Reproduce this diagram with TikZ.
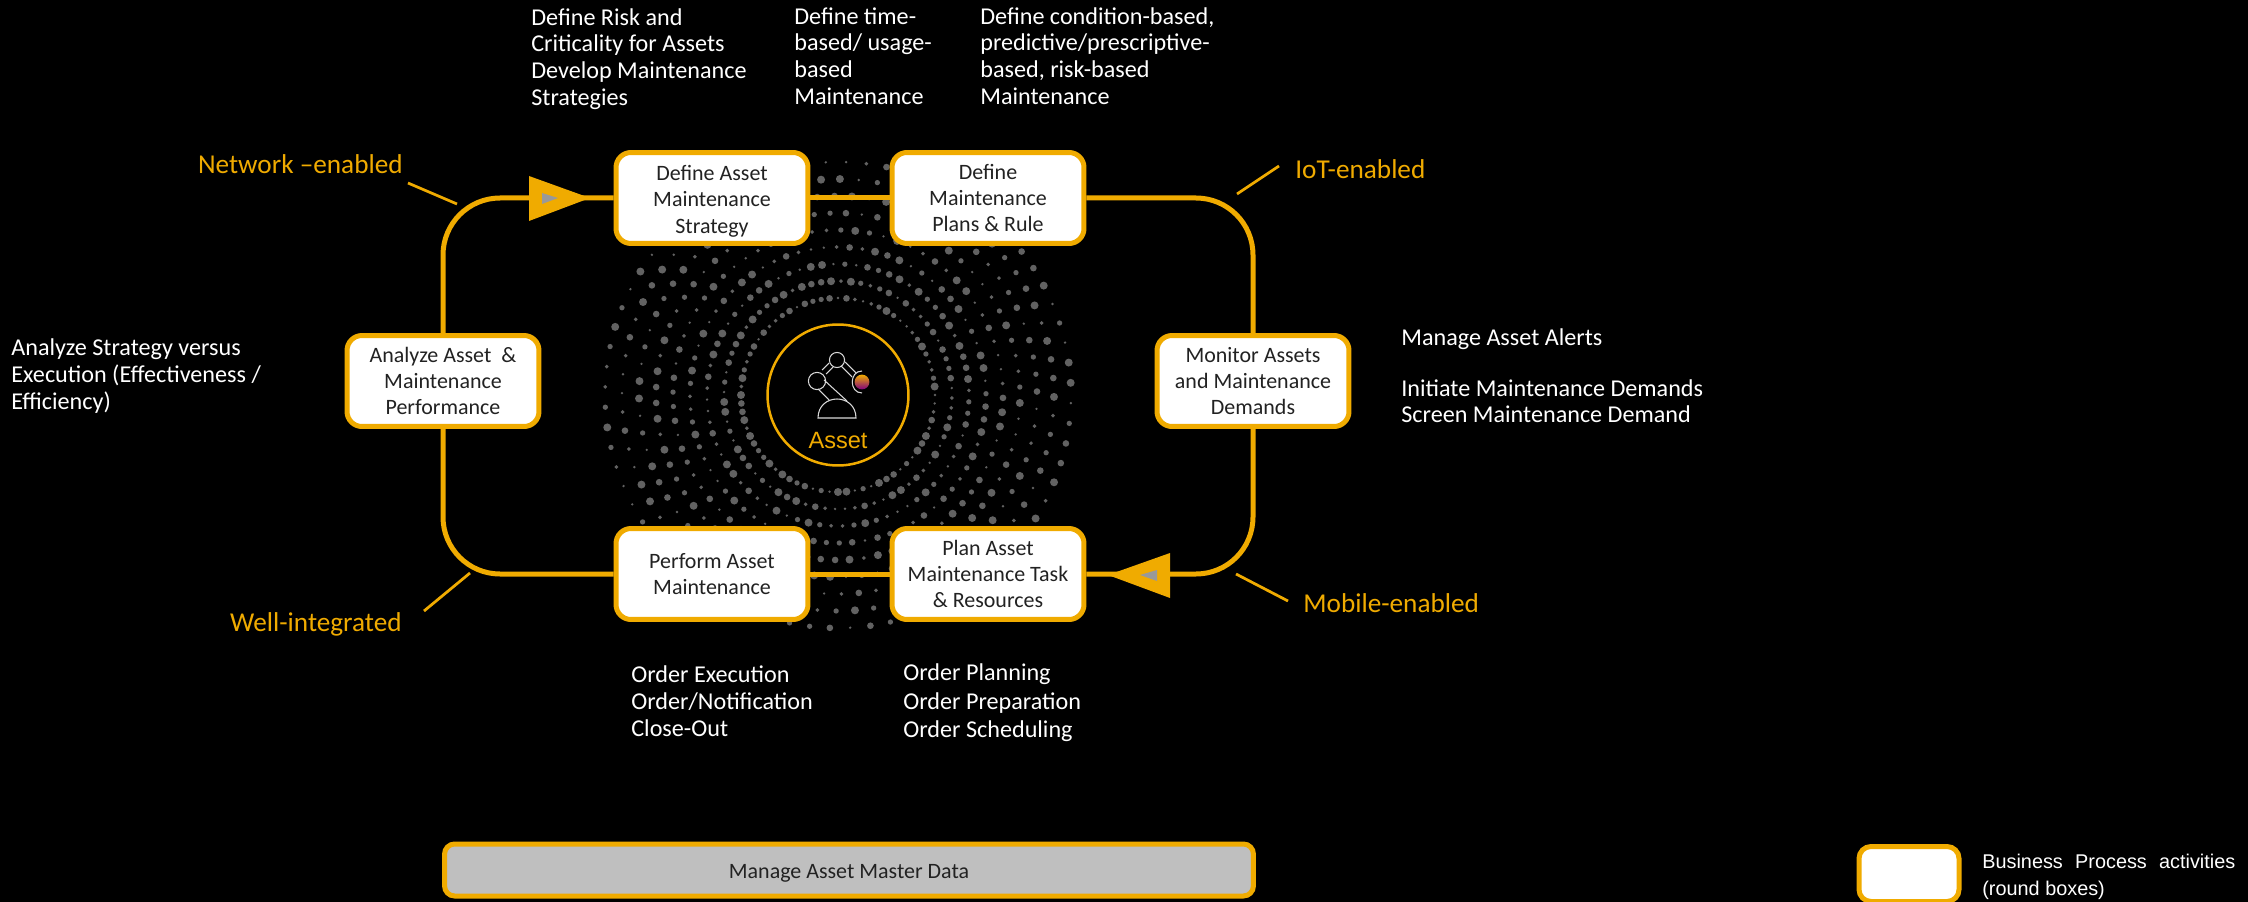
\documentclass[tikz,border=0pt]{standalone}
\usepackage{fontspec}
\setmainfont{Carlito}
\newfontfamily\arialfont{Liberation Sans}
\definecolor{sapgold}{HTML}{F0AB00}
\definecolor{dotgray}{HTML}{626262}
\definecolor{bargray}{HTML}{BFBFBF}
\definecolor{boxtext}{HTML}{222222}
\tikzset{
  activity/.style={draw=sapgold, fill=white, line width=0.1cm, rounded corners=0.3cm,
    minimum width=3.84cm, minimum height=1.82cm, inner sep=0pt, align=center, text=boxtext,
    font=\fontsize{12.5}{15}\selectfont},
  note/.style={text=white, align=left, inner sep=0pt, font=\fontsize{13.75}{15.2}\selectfont},
  tag/.style={text=sapgold, inner sep=0pt, font=\fontsize{15.5}{18}\selectfont},
  flow/.style={draw=sapgold, line width=0.1cm},
  tick/.style={draw=sapgold, line width=0.055cm},
  robot/.style={draw=white!85!black, line width=0.6pt},
}
\begin{document}
\begin{tikzpicture}[x=0.02cm, y=-0.02cm]
\def\dotsize#1#2{mod(#1*7+#2*11+mod(#1*#1,17)*3,5)}

\fill[black] (0,0) rectangle (2248,902);
\useasboundingbox (0,0) rectangle (2248,902);

% dots round the asset
\foreach \ring in {0,...,8} {
  \foreach \spot in {0,...,71} {
    \pgfmathsetmacro\dotr{0.75+0.38*\dotsize{\spot}{\ring}}
    \pgfmathsetmacro\rad{97+17*\ring}
    \fill[dotgray] ({838+\rad*cos(\spot*5+\ring*1.5)},{395+\rad*sin(\spot*5+\ring*1.5)}) circle (\dotr pt);
  }
}

% process boxes
\node[activity] (strategy) at (712,198) {\rule{0pt}{12pt}Define Asset\\Maintenance\\Strategy};
\node[activity] (plans) at (988,198) {Define\\Maintenance\\Plans \& Rule};
\node[activity] (monitor) at (1253,381) {Monitor Assets\\and Maintenance\\Demands};
\node[activity] (resources) at (988,574) {Plan Asset\\Maintenance Task\\\& Resources};
\node[activity] (perform) at (712,574) {Perform Asset\\Maintenance};
\node[activity] (analyze) at (443,381) {Analyze Asset~ \&\\Maintenance\\Performance};

% the loop
\draw[flow] (strategy) -- (plans);
\draw[flow, rounded corners=1.14cm] (plans) -| (monitor);
\draw[flow, rounded corners=1.14cm] (monitor) |- (resources);
\draw[flow] (resources) -- (perform);
\draw[flow, rounded corners=1.14cm] (perform) -| (analyze);
\draw[flow, rounded corners=1.14cm] (analyze) |- (strategy);

% arrow heads
\fill[sapgold] (529,176) -- (529,221) -- (590,198) -- cycle;
\fill[gray!80] (542,193) -- (542,204) -- (558,198) -- cycle;
\fill[sapgold] (1170,553) -- (1170,598) -- (1108,575) -- cycle;
\fill[gray!80] (1157,570) -- (1157,581) -- (1140,575) -- cycle;

% asset in the middle
\node[draw=sapgold, line width=0.05cm, circle, minimum size=2.82cm, inner sep=0pt] (asset) at (838,395) {};
\node[text=sapgold, inner sep=0pt, font=\arialfont\fontsize{13.4}{15}\selectfont] (assetname) at (838,441) {Asset};
\draw[robot] (837,360) circle (4.3pt);
\draw[robot] (817,381) circle (4.9pt);
\draw[robot] (818,418) .. controls (818,406) and (827,399) .. (837,399) .. controls (847,399) and (856,406) .. (856,418) -- cycle;
\draw[robot] (822,370) -- (829,363) (826,374) -- (833,367);
\draw[robot] (841,366) -- (852,377) (845,362) -- (856,373);
\draw[robot] (824,380) -- (847,401) (818,389) -- (829,400);
\draw[robot] (862,371) .. controls (849,371) and (849,393) .. (862,393);
\shade[top color=sapgold, middle color=orange!80!red, bottom color=violet] (862,382) circle (4.2pt);

% notes
\node[note, anchor=west] (riskcrit) at (531,59) {Define Risk and\\Criticality for Assets\\Develop Maintenance\\Strategies};
\node[note, anchor=west] (timebased) at (794,56) {Define time-\\based/ usage-\\based\\Maintenance};
\node[note, anchor=west] (condbased) at (980,56) {Define condition-based,\\predictive/prescriptive-\\based, risk-based\\Maintenance};
\node[note, anchor=west] (effect) at (11,376) {Analyze Strategy versus\\Execution (Effectiveness /\\Efficiency)};
\node[note, anchor=west] (alerts) at (1401,376) {Manage Asset Alerts\\[13.4pt]Initiate Maintenance Demands\\Screen Maintenance Demand};
\node[note, anchor=west] (execution) at (631,701) {Order Execution\\Order/Notification\\Close-Out};
\node[note, anchor=west] (planning) at (903,703) {Order Planning\\[1pt]Order Preparation\\[1pt]Order Scheduling};

% enabler labels
\node[tag, anchor=east] (network) at (403,164) {Network --enabled};
\node[tag, anchor=west] (iot) at (1295,169) {IoT-enabled};
\node[tag, anchor=west] (mobile) at (1303,603) {Mobile-enabled};
\node[tag, anchor=east] (wellint) at (402,624) {Well-integrated};
\coordinate (n1) at (408,183); \coordinate (n2) at (457,204);
\coordinate (i1) at (1279,166); \coordinate (i2) at (1237,194);
\coordinate (m1) at (1288,601); \coordinate (m2) at (1236,574);
\coordinate (w1) at (424,611); \coordinate (w2) at (470,573);
\draw[tick] (n1) -- (n2);
\draw[tick] (i1) -- (i2);
\draw[tick] (m1) -- (m2);
\draw[tick] (w1) -- (w2);

% master data and legend
\node[activity, fill=bargray, rounded corners=0.2cm, minimum width=16.18cm, minimum height=1.04cm] (masterdata) at (849,870) {\rule{0pt}{12pt}Manage Asset Master Data};
\node[activity, rounded corners=0.24cm, minimum width=2.0cm, minimum height=1.1cm] (legendbox) at (1909,874) {};
\node[note, anchor=west, font=\arialfont\fontsize{11.3}{15.5}\selectfont] (legendtext) at (1982,877) {\makebox[5.06cm][s]{Business Process activities}\\(round boxes)};

\end{tikzpicture}
\end{document}
